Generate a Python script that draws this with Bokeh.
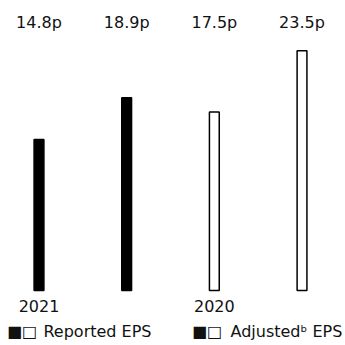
from bokeh.plotting import figure
from bokeh.models import Range1d, ColumnDataSource
from bokeh.core.properties import value
from bokeh.embed import file_html
from bokeh.resources import INLINE

# data
positions = [0, 1, 2, 3]
eps_values = [14.8, 18.9, 17.5, 23.5]
eps_labels = ["14.8p", "18.9p", "17.5p", "23.5p"]
fills = ["black", "black", "white", "white"]
year_labels = ["2021", "2020"]
year_positions = [0, 2]
legend_labels = ["Reported EPS", "Adjusted\u1d47 EPS"]

W, H = 345, 345
FONT = "DejaVu Sans"

p = figure(width=W, height=H, output_backend="svg", toolbar_location=None,
           x_range=Range1d(-0.439, 3.496), y_range=Range1d(-5.392, 28.431),
           min_border=0, outline_line_color=None)
p.axis.visible = False
p.grid.visible = False
p.background_fill_color = "white"
p.border_fill_color = "white"

src = ColumnDataSource(dict(x=positions, top=eps_values, fill=fills, lab=eps_labels))
p.vbar(x="x", top="top", bottom=0, width=0.112, source=src,
       fill_color="fill", line_color="black", line_width=1.5)

# value labels across the top
p.text(x="x", y=26.23, text="lab", source=src, text_align="center",
       text_baseline="middle", text_font=value(FONT), text_font_size="16px",
       text_color="#111111")

# year labels
p.text(x=year_positions, y=[-1.52] * 2, text=year_labels, text_align="center",
       text_baseline="middle", text_font=value(FONT), text_font_size="16px",
       text_color="#111111")

# legend
sq_x = [-0.365, 1.745]
txt_x = [0.051, 2.184]
p.text(x=sq_x, y=[-4.02] * 2, text=["\u25a0\u25a1"] * 2, text_align="left",
       text_baseline="middle", text_font=value("DejaVu Sans"),
       text_font_size="16px", text_color="#111111")
p.text(x=txt_x, y=[-4.02] * 2, text=legend_labels,
       text_align="left", text_baseline="middle", text_font=value(FONT),
       text_font_size="16px", text_color="#111111")

open("out.html", "w").write(file_html(p, INLINE))
